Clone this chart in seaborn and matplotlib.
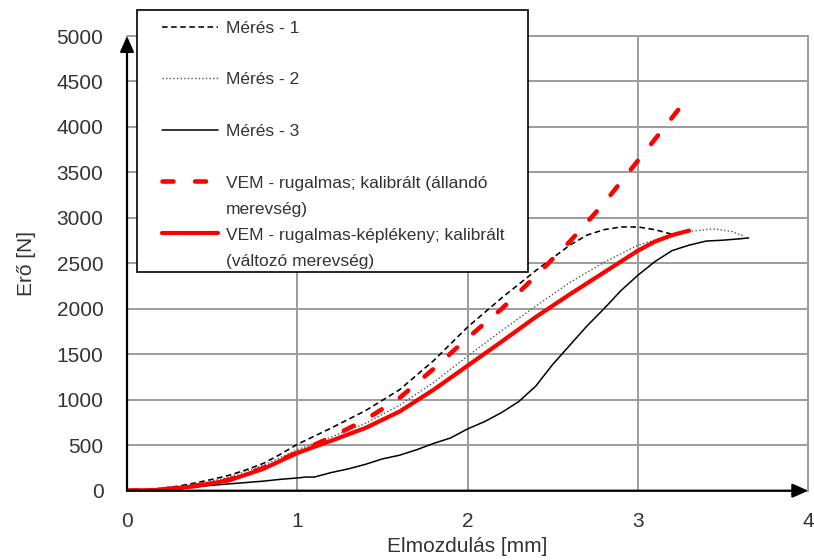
import numpy as np
import matplotlib
matplotlib.use("Agg")
import matplotlib.pyplot as plt
from matplotlib import font_manager
from matplotlib.lines import Line2D
from matplotlib.patches import Rectangle
import seaborn as sns

# ---------------- data ----------------
x_meres1 = [0, 0.1, 0.2, 0.3, 0.4, 0.5, 0.6, 0.7, 0.8, 0.9, 1.0, 1.2, 1.4, 1.6, 1.8,
            2.0, 2.2, 2.4, 2.6, 2.7, 2.8, 2.9, 3.0, 3.1, 3.2]
y_meres1 = [0, 8, 25, 50, 85, 125, 170, 230, 300, 400, 510, 690, 880, 1110, 1430,
            1800, 2120, 2420, 2700, 2810, 2870, 2900, 2900, 2870, 2820]

x_meres2 = [0, 0.2, 0.4, 0.6, 0.8, 1.0, 1.2, 1.4, 1.6, 1.8, 2.0, 2.2, 2.4, 2.6, 2.8,
            3.0, 3.2, 3.3, 3.44, 3.55, 3.62]
y_meres2 = [0, 15, 65, 150, 280, 450, 590, 740, 940, 1190, 1480, 1760, 2030, 2290, 2510,
            2700, 2810, 2850, 2880, 2850, 2800]

x_meres3 = [0, 0.1, 0.2, 0.3, 0.4, 0.5, 0.6, 0.7, 0.8, 0.9, 1.0, 1.05, 1.1, 1.2, 1.3,
            1.4, 1.5, 1.6, 1.7, 1.8, 1.9, 2.0, 2.1, 2.2, 2.3, 2.4, 2.5, 2.6, 2.7, 2.8,
            2.9, 3.0, 3.1, 3.2, 3.3, 3.4, 3.5, 3.6, 3.65]
y_meres3 = [0, 5, 15, 25, 40, 60, 75, 90, 105, 125, 140, 150, 150, 200, 240,
            290, 350, 390, 450, 520, 580, 680, 760, 860, 980, 1150, 1390, 1600, 1810, 2000,
            2200, 2370, 2520, 2640, 2700, 2745, 2755, 2770, 2780]

x_vem_rug = [0, 0.2, 0.4, 0.6, 0.8, 1.0, 1.2, 1.4, 1.6, 1.8, 2.0, 2.2, 2.4, 2.6, 2.8, 3.0, 3.25]
y_vem_rug = [0, 12, 55, 120, 250, 420, 590, 780, 1020, 1340, 1680, 2000, 2360, 2740, 3160, 3630, 4220]

x_vem_kep = [0, 0.2, 0.4, 0.6, 0.8, 1.0, 1.2, 1.4, 1.6, 1.8, 2.0, 2.2, 2.4, 2.6, 2.8,
             3.0, 3.1, 3.2, 3.3]
y_vem_kep = [0, 10, 50, 115, 240, 415, 550, 690, 870, 1110, 1375, 1640, 1910, 2160, 2400,
             2640, 2740, 2810, 2860]

x_ticks = [0, 1, 2, 3, 4]
y_ticks = [0, 500, 1000, 1500, 2000, 2500, 3000, 3500, 4000, 4500, 5000]

labels = ["Mérés - 1", "Mérés - 2", "Mérés - 3",
          "VEM - rugalmas; kalibrált (állandó\nmerevség)",
          "VEM - rugalmas-képlékeny; kalibrált\n(változó merevség)"]
x_label = "Elmozdulás [mm]"
y_label = "Erő [N]"

# ---------------- style ----------------
sns.set_theme(style="white")
plt.rcParams["font.family"] = ["Liberation Sans", "DejaVu Sans"]
avail = {f.name for f in font_manager.fontManager.ttflist}
if "Liberation Sans Narrow" in avail:
    leg_family = ["Liberation Sans Narrow", "Liberation Sans", "DejaVu Sans"]
    leg_size = 14
else:
    leg_family = ["Liberation Sans", "DejaVu Sans"]
    leg_size = 12.5
txt_col = "#333333"

W, H = 814, 560
fig = plt.figure(figsize=(W / 100, H / 100), dpi=100)
x0p, x1p, y0p, y1p = 127, 808.3, 490.7, 36
ax = fig.add_axes([x0p / W, 1 - y0p / H, (x1p - x0p) / W, (y0p - y1p) / H])

# series
sns.lineplot(x=x_meres1, y=y_meres1, ax=ax, color="black", lw=1.15, estimator=None, sort=False)
ax.lines[-1].set_dashes([3.5, 2.2])
sns.lineplot(x=x_meres2, y=y_meres2, ax=ax, color="#555555", lw=1.0, estimator=None, sort=False)
ax.lines[-1].set_dashes([1, 1.6])
sns.lineplot(x=x_meres3, y=y_meres3, ax=ax, color="black", lw=1.1, estimator=None, sort=False)
sns.lineplot(x=x_vem_rug, y=y_vem_rug, ax=ax, color="#ff0000", lw=3.3, estimator=None, sort=False)
ax.lines[-1].set_dashes([2.4, 4.7])
ax.lines[-1].set_dash_capstyle("round")
sns.lineplot(x=x_vem_kep, y=y_vem_kep, ax=ax, color="#ff0000", lw=3.0, estimator=None, sort=False)
ax.lines[-1].set_solid_capstyle("round")

ax.set_xlim(0, 4)
ax.set_ylim(0, 5000)
ax.set_xticks(x_ticks)
ax.set_yticks(y_ticks)
ax.set_xticklabels([str(v) for v in x_ticks])
ax.set_yticklabels([str(v) for v in y_ticks])
for s in ax.spines.values():
    s.set_visible(False)
ax.grid(True, color="#9c9c9c", lw=1.4)
ax.set_axisbelow(True)
for gl in ax.get_xgridlines() + ax.get_ygridlines():
    gl.set_clip_on(False)
ax.tick_params(axis="both", length=0, labelsize=15, labelcolor=txt_col)
ax.tick_params(axis="y", pad=17)
ax.tick_params(axis="x", pad=15)

ax.set_xlabel(x_label, fontsize=15, color=txt_col, labelpad=5)
ax.set_ylabel(y_label, fontsize=15, color=txt_col, labelpad=15)

# axis arrows
arrow = dict(arrowstyle="-|>,head_length=0.95,head_width=0.42", lw=1.6, color="black",
             shrinkA=0, shrinkB=0, mutation_scale=10)
ax.annotate("", xy=(4, 0), xytext=(0, 0), arrowprops=arrow, annotation_clip=False, zorder=5)
ax.annotate("", xy=(0, 5000), xytext=(0, 0), arrowprops=arrow, annotation_clip=False, zorder=5)

# legend (figure pixel coordinates)
def fx(px):
    return px / W

def fy(py):
    return 1 - py / H

fig.add_artist(Rectangle((fx(137), fy(272)), fx(528) - fx(137), fy(10) - fy(272),
                         transform=fig.transFigure, facecolor="white", edgecolor="black",
                         lw=1.2, zorder=10))
entry_y = [27, 78, 130, 181, 233]
line_step = 27
styles = [
    dict(color="black", lw=1.15, dashes=[3.5, 2.2]),
    dict(color="#555555", lw=1.0, dashes=[1, 1.6]),
    dict(color="black", lw=1.1),
    dict(color="#ff0000", lw=3.3, dashes=[2.4, 4.7], dash_capstyle="round"),
    dict(color="#ff0000", lw=3.0, solid_capstyle="round"),
]
for yy, st, lab in zip(entry_y, styles, labels):
    ln = Line2D([fx(162), fx(218)], [fy(yy), fy(yy)], transform=fig.transFigure, zorder=11, **st)
    fig.add_artist(ln)
    nextra = lab.count("\n")
    fig.text(fx(226), fy(yy + 6 + line_step * nextra), lab, ha="left", va="baseline",
             fontsize=leg_size, family=leg_family, color=txt_col, zorder=12, linespacing=1.95)

fig.savefig("out.png", dpi=100)
